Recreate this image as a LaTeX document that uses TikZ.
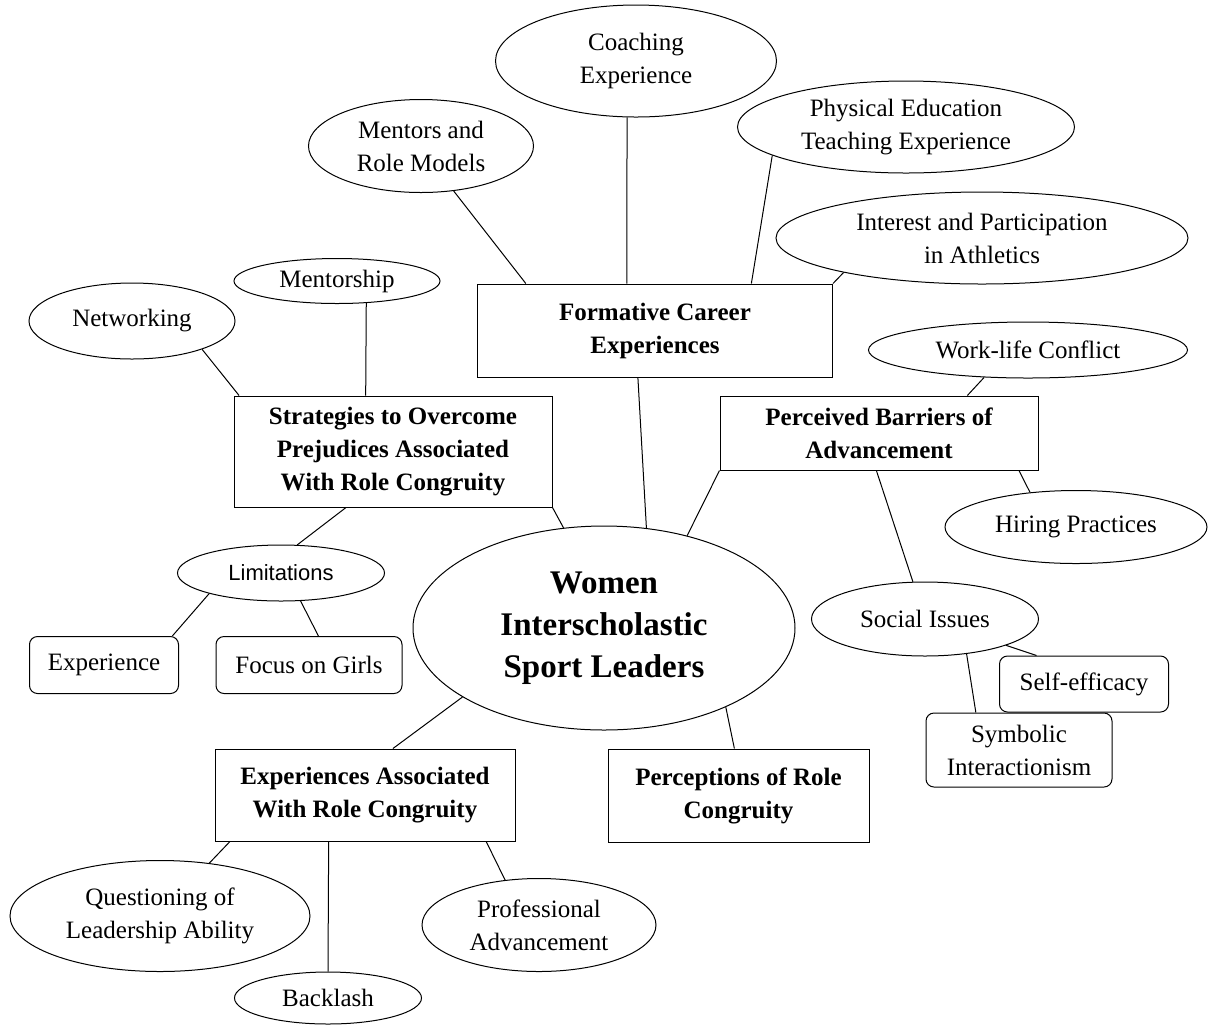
\documentclass[tikz,border=0pt]{standalone}
\usepackage{fontspec}
\setmainfont{Liberation Serif}
\newfontfamily\limfont{Liberation Sans}
\usetikzlibrary{shapes.geometric}

\begin{document}
\begin{tikzpicture}[x=0.5pt,y=-0.5pt,
    every node/.style={inner sep=0pt,align=center,font=\fontsize{12.5}{16.5}\selectfont},
    oval/.style={draw,ellipse,line width=0.5pt},
    topic/.style={draw,rectangle,line width=0.5pt,font=\fontsize{12.5}{16.5}\selectfont\bfseries},
    leaf/.style={draw,rectangle,rounded corners=4pt,line width=0.5pt},
    sz/.style 2 args={minimum width=#1,minimum height=#2}]
  \useasboundingbox (0,0) rectangle (1212,1025);
  \draw
    (604,628) node[oval,sz={191pt}{102pt},font=\fontsize{16.5}{21}\selectfont\bfseries] (women){Women\\Interscholastic\\Sport Leaders}
    (655,330.5) node[topic,sz={177.5pt}{46.5pt}] (fce){Formative Career\\Experiences}
    (393,451.5) node[topic,sz={159pt}{55.5pt}] (strat){Strategies to Overcome\\Prejudices Associated\\With Role Congruity}
    (879,433) node[topic,sz={159pt}{37pt}] (barriers){Perceived Barriers of\\Advancement}
    (365,795) node[topic,sz={150pt}{46pt}] (expassoc){Experiences Associated\\With Role Congruity}
    (738.5,795.5) node[topic,sz={130.5pt}{46.5pt}] (percept){Perceptions of Role\\Congruity}
    (636,61) node[oval,sz={140.5pt}{56pt}] (coach){Coaching\\Experience}
    (421,146) node[oval,sz={112.5pt}{46.5pt}] (mentors){Mentors and\\Role Models}
    (906,127) node[oval,sz={168.5pt}{46pt}] (physed){Physical Education\\Teaching Experience}
    (982,238) node[oval,sz={206pt}{46pt}] (interest){Interest and Participation\\in Athletics}
    (1028,350) node[oval,sz={159.5pt}{28pt}] (worklife){Work-life Conflict}
    (132,321) node[oval,sz={103pt}{38pt}] (network){Networking}
    (337,281) node[oval,sz={103pt}{22.5pt}] (mentorship){Mentorship}
    (1076,527) node[oval,sz={131pt}{36.5pt}] (hiring){Hiring Practices}
    (925,619) node[oval,sz={113.5pt}{37pt}] (social){Social Issues}
    (281,573) node[oval,sz={103.5pt}{28pt},font=\limfont\fontsize{11}{13}\selectfont] (limits){Limitations}
    (160,916) node[oval,sz={150pt}{55.5pt}] (question){Questioning of\\Leadership Ability}
    (539,925) node[oval,sz={117pt}{46.5pt}] (profadv){Professional\\Advancement}
    (328,998) node[oval,sz={93.5pt}{26pt}] (backlash){Backlash}
    (104,665) node[leaf,sz={74.5pt}{28.5pt}] (experience){Experience}
    (309,665) node[leaf,sz={93pt}{28.5pt}] (girls){Focus on Girls}
    (1084,684) node[leaf,sz={84.5pt}{28pt}] (selfeff){Self-efficacy}
    (1019,750) node[leaf,sz={93pt}{37pt}] (symbolic){Symbolic\\Interactionism};
  \begin{scope}[line width=0.5pt]
    \draw (mentors.-54) to (fce.160);
    \draw (coach.-99) to (fce.121);
    \draw (physed.192.6) to (fce.26.8);
    \draw (interest.194.3) to (fce.north east);
    \draw (fce.-110) to (women.67.6);
    \draw (network.-22.2) to (strat.160.2);
    \draw (mentorship.-37.2) to (strat.116.4);
    \draw (strat.south east) to (women.112.1);
    \draw (strat.-130.3) to (limits.60);
    \draw (limits.-164.9) to (experience.23);
    \draw (limits.-55.8) to (girls.72);
    \draw (barriers.south west) to (women.48.3);
    \draw (worklife.-148.1) to (barriers.23.8);
    \draw (barriers.-15.4) to (hiring.143.7);
    \draw (barriers.-94.6) to (social.108.4);
    \draw (social.-18) to (selfeff.149.2);
    \draw (social.-40.6) to (symbolic.139.3);
    \draw (women.206.2) to (expassoc.59.6);
    \draw (women.-33.9) to (percept.95.5);
    \draw (expassoc.-161.75) to (question.47);
    \draw (expassoc.-128.8) to (backlash.90);
    \draw (expassoc.-21.7) to (profadv.127.9);
  \end{scope}
\end{tikzpicture}
\end{document}
